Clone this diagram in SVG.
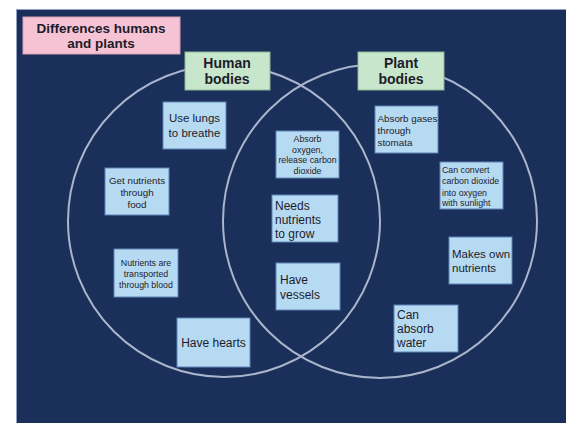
<svg xmlns="http://www.w3.org/2000/svg" width="566" height="423" viewBox="0 0 566 423">
<style>
.bg{fill:#1a2f5a;stroke:#8fa0c0;stroke-width:1}
.ring{fill:none;stroke:#aab5cc;stroke-width:2}
.box{fill:#b7daf3;stroke:#5f86b8;stroke-width:1}
.title{fill:#f6c3d4;stroke:#d9a0b4;stroke-width:1}
.head{fill:#c8e6cc;stroke:#8cb894;stroke-width:1}
text{font-family:"Liberation Sans",Arial,sans-serif;fill:#1c1c2a}
.b{font-weight:bold}
.c{text-anchor:middle}
</style>
<rect width="566" height="423" fill="#ffffff"/>
<rect class="bg" x="16.5" y="9.5" width="560" height="420"/>
<g id="circles">
<circle class="ring" cx="224" cy="221" r="156"/>
<circle class="ring" cx="380" cy="221" r="157"/>
</g>
<g id="title">
<rect class="title" x="23" y="17" width="157" height="37"/>
<text class="b c" x="101" y="33" font-size="13.5">Differences humans</text>
<text class="b c" x="101" y="48" font-size="13.5">and plants</text>
</g>
<g id="human-bodies">
<rect class="head" x="185" y="52" width="85" height="38"/>
<text class="b c" x="227" y="68" font-size="14">Human</text>
<text class="b c" x="227" y="84" font-size="14">bodies</text>
</g>
<g id="plant-bodies">
<rect class="head" x="358" y="52" width="86" height="38"/>
<text class="b c" x="401" y="68" font-size="14">Plant</text>
<text class="b c" x="401" y="84" font-size="14">bodies</text>
</g>
<g id="use-lungs">
<rect class="box" x="163" y="102" width="63" height="47"/>
<text class="c" x="194.5" y="122" font-size="11.5">Use lungs</text>
<text class="c" x="194.5" y="137" font-size="11.5">to breathe</text>
</g>
<g id="get-nutrients">
<rect class="box" x="105" y="168" width="64" height="47"/>
<text class="c" x="137" y="184" font-size="9.8">Get nutrients</text>
<text class="c" x="137" y="196" font-size="9.8">through</text>
<text class="c" x="137" y="208" font-size="9.8">food</text>
</g>
<g id="nutrients-transported">
<rect class="box" x="114" y="249" width="64" height="48"/>
<text class="c" x="146" y="266" font-size="8.8">Nutrients are</text>
<text class="c" x="146" y="277" font-size="8.8">transported</text>
<text class="c" x="146" y="288" font-size="8.8">through blood</text>
</g>
<g id="have-hearts">
<rect class="box" x="177" y="318" width="73" height="49"/>
<text class="c" x="213.5" y="347" font-size="12">Have hearts</text>
</g>
<g id="absorb-oxygen">
<rect class="box" x="276" y="131" width="63" height="47"/>
<text class="c" x="307.5" y="142" font-size="8.8">Absorb</text>
<text class="c" x="307.5" y="152.5" font-size="8.8">oxygen,</text>
<text class="c" x="307.5" y="163" font-size="8.8">release carbon</text>
<text class="c" x="307.5" y="173.5" font-size="8.8">dioxide</text>
</g>
<g id="needs-nutrients">
<rect class="box" x="272" y="195" width="66" height="47"/>
<text x="275" y="210" font-size="12">Needs</text>
<text x="275" y="224" font-size="12">nutrients</text>
<text x="275" y="238" font-size="12">to grow</text>
</g>
<g id="have-vessels">
<rect class="box" x="276" y="263" width="64" height="47"/>
<text x="280" y="284" font-size="12">Have</text>
<text x="280" y="299" font-size="12">vessels</text>
</g>
<g id="absorb-gases">
<rect class="box" x="375" y="106" width="63" height="47"/>
<text x="377.5" y="122" font-size="9.8">Absorb gases</text>
<text x="377.5" y="134" font-size="9.8">through</text>
<text x="377.5" y="146" font-size="9.8">stomata</text>
</g>
<g id="can-convert">
<rect class="box" x="440" y="162" width="63" height="47"/>
<text x="442" y="172.5" font-size="8.8">Can convert</text>
<text x="442" y="184" font-size="8.8">carbon dioxide</text>
<text x="442" y="195.5" font-size="8.8">into oxygen</text>
<text x="442" y="206" font-size="8.8">with sunlight</text>
</g>
<g id="makes-own">
<rect class="box" x="449" y="237" width="63" height="47"/>
<text x="452" y="258" font-size="11.5">Makes own</text>
<text x="452" y="272" font-size="11.5">nutrients</text>
</g>
<g id="can-absorb">
<rect class="box" x="394" y="305" width="64" height="47"/>
<text x="397" y="319" font-size="12">Can</text>
<text x="397" y="333" font-size="12">absorb</text>
<text x="397" y="347" font-size="12">water</text>
</g>
</svg>
